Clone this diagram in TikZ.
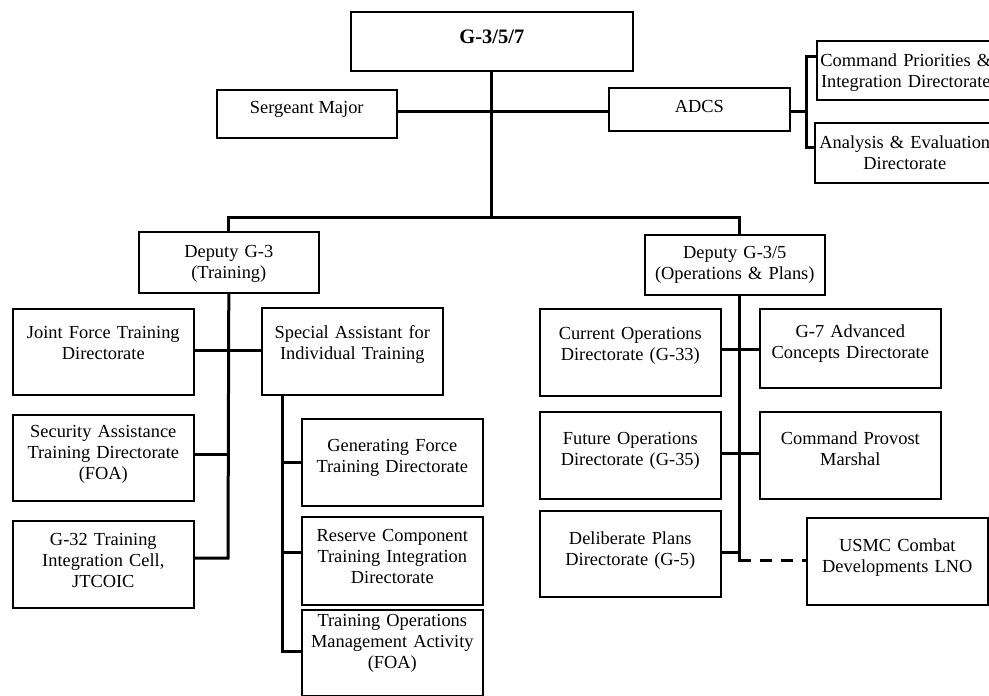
\documentclass[tikz,border=0pt]{standalone}
\usepackage{fontspec}
\setmainfont{Liberation Serif}
\begin{document}
\begin{tikzpicture}[x=1pt,y=-1pt,
  box/.style={draw,line width=1.6pt,rectangle,inner sep=0pt,anchor=north west},
  txt/.style={inner sep=0pt,anchor=base,align=center,text width=181pt,
    font=\fontsize{18.4}{21.3}\selectfont},
  one/.style={inner sep=0pt,anchor=base,font=\fontsize{18.4}{21.3}\selectfont},
  conn/.style={line width=3pt},
  dconn/.style={line width=3pt,dash pattern=on 12pt off 9pt}]
\clip (0,0) rectangle (989,696);
% boxes
\node[box,minimum width=282pt,minimum height=59pt] (g357) at (350,11) {};
\node[box,minimum width=180pt,minimum height=48pt] (sgm) at (216,89) {};
\node[box,minimum width=181pt,minimum height=43pt] (adcs) at (608,87) {};
\node[box,minimum width=178pt,minimum height=59pt] (cpi) at (816,40) {};
\node[box,minimum width=180pt,minimum height=60pt] (ae) at (814,122) {};
\node[box,minimum width=180pt,minimum height=61pt] (dg3) at (138,231) {};
\node[box,minimum width=180pt,minimum height=60pt] (dg35) at (644,234) {};
\node[box,minimum width=181pt,minimum height=86pt] (jf) at (12,308) {};
\node[box,minimum width=181pt,minimum height=87pt] (sa) at (261,307) {};
\node[box,minimum width=181pt,minimum height=86pt] (sec) at (12,414) {};
\node[box,minimum width=181pt,minimum height=87pt] (g32) at (12,520) {};
\node[box,minimum width=181pt,minimum height=87pt] (gen) at (301,418) {};
\node[box,minimum width=181pt,minimum height=88pt] (res) at (301,516) {};
\node[box,minimum width=181pt,minimum height=86pt] (toma) at (301,609) {};
\node[box,minimum width=181pt,minimum height=87pt] (cur) at (539,308) {};
\node[box,minimum width=181pt,minimum height=79pt] (g7) at (759,308) {};
\node[box,minimum width=181pt,minimum height=87pt] (fut) at (539,411) {};
\node[box,minimum width=181pt,minimum height=87pt] (prov) at (759,411) {};
\node[box,minimum width=181pt,minimum height=86pt] (del) at (539,510) {};
\node[box,minimum width=181pt,minimum height=87pt] (usmc) at (806,517) {};
% texts
\node[inner sep=0pt,anchor=base,font=\fontsize{20.5}{24}\selectfont\bfseries] (g357t) at ([yshift=-32pt]g357.north) {G-3/5/7};
\node[one] (sgmt) at ([yshift=-24pt]sgm.north) {Sergeant Major};
\node[one] (adcst) at ([yshift=-25pt]adcs.north) {ADCS};
\node[txt,text width=178pt] (cpit) at ([yshift=-26pt]cpi.north) {Command Priorities \&\\Integration Directorate};
\node[txt,text width=180pt] (aet) at ([yshift=-26pt]ae.north) {Analysis \& Evaluation\\Directorate};
\node[txt] (dg3t) at ([yshift=-26pt]dg3.north) {Deputy G-3\\(Training)};
\node[txt] (dg35t) at ([yshift=-24pt]dg35.north) {Deputy G-3/5\\(Operations \& Plans)};
\node[txt] (jft) at ([yshift=-30pt]jf.north) {Joint Force Training\\Directorate};
\node[txt] (sat) at ([yshift=-31pt]sa.north) {Special Assistant for\\Individual Training};
\node[txt] (sect) at ([yshift=-23pt]sec.north) {Security Assistance\\Training Directorate\\(FOA)};
\node[txt] (g32t) at ([yshift=-25pt]g32.north) {G-32 Training\\Integration Cell,\\JTCOIC};
\node[txt] (gent) at ([yshift=-33pt]gen.north) {Generating Force\\Training Directorate};
\node[txt] (rest) at ([yshift=-25pt]res.north) {Reserve Component\\Training Integration\\Directorate};
\node[txt] (tomat) at ([yshift=-17pt]toma.north) {Training Operations\\Management Activity\\(FOA)};
\node[txt] (curt) at ([yshift=-31pt]cur.north) {Current Operations\\Directorate (G-33)};
\node[txt] (g7t) at ([yshift=-29pt]g7.north) {G-7 Advanced\\Concepts Directorate};
\node[txt] (futt) at ([yshift=-33pt]fut.north) {Future Operations\\Directorate (G-35)};
\node[txt] (provt) at ([yshift=-33pt]prov.north) {Command Provost\\Marshal};
\node[txt] (delt) at ([yshift=-34pt]del.north) {Deliberate Plans\\Directorate (G-5)};
\node[txt] (usmct) at ([yshift=-34pt]usmc.north) {USMC Combat\\Developments LNO};
% junction coordinates
\coordinate (hl) at (492,111);
\coordinate (bar) at (492,217);
\coordinate (bt) at (806,56);
\coordinate (bb) at (806,147);
\coordinate (bk) at (806,111);
\coordinate (jfc) at (228,350);
\coordinate (secc) at (228,454);
\coordinate (g32c) at (228,558);
\coordinate (sv) at (282,394);
\coordinate (genc) at (282,462);
\coordinate (resc) at (282,552);
\coordinate (tomac) at (282,651);
\coordinate (rv) at (739,294);
\coordinate (c1) at (739,349);
\coordinate (c2) at (739,453);
\coordinate (c3) at (739,552);
\coordinate (dsh) at (739,560);
% connectors
\draw[conn] (g357.south) -- (g357.south |- bar);
\draw[conn] (sgm.east |- hl) -- (adcs.west |- hl);
\draw[conn] (dg3.north) |- (bar) -| (dg35.north -| rv);
\draw[conn] (adcs.east |- bk) -- (bk);
\draw[conn] (cpi.west |- bt) -- (bt) -- (bb) -- (ae.west |- bb);
\draw[conn] (dg3.south) -- (g32c) -- (g32.east |- g32c);
\draw[conn] (jf.east |- jfc) -- (sa.west |- jfc);
\draw[conn] (sec.east |- secc) -- (secc);
\draw[conn] (sa.south -| sv) -- (tomac) -- (toma.west |- tomac);
\draw[conn] (genc) -- (gen.west |- genc);
\draw[conn] (resc) -- (res.west |- resc);
\draw[conn,line cap=rect] (dg35.south -| rv) -- (dsh);
\draw[conn] (cur.east |- c1) -- (g7.west |- c1);
\draw[conn] (fut.east |- c2) -- (prov.west |- c2);
\draw[conn] (del.east |- c3) -- (c3);
\draw[dconn] (dsh) -- (usmc.west |- dsh);
\end{tikzpicture}
\end{document}
